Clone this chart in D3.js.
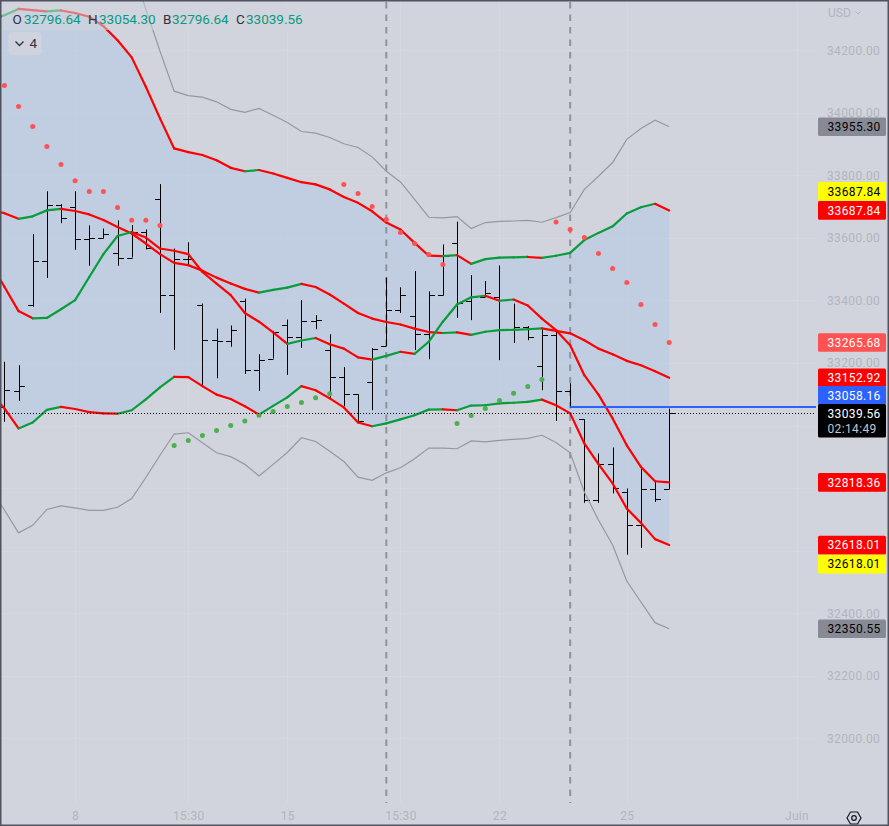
<!DOCTYPE html>
<html>
<head>
<meta charset="utf-8">
<title>Chart</title>
<script src="https://cdn.jsdelivr.net/npm/d3@7"></script>
<style>
  html, body { margin: 0; padding: 0; background: #d1d4dc; }
  svg { display: block; }
  text { font-family: Roboto, "Liberation Sans", sans-serif; }
</style>
</head>
<body>
<div id="chart"></div>
<script>
"use strict";

// OHLC bars, one per session in the window
const opens = [33060,33112,33386,33525,33705,33700,33595,33601,33553,33537,33619,33723,33416,33534,33384,33275,33269,33397,33179,33214,33320,33282,33333,33243,33154,33100,33138,33254,33368,33350,33294,33416,33583,33397,33411,33411,33307,33314,33189,33288,33112,33020,32762,32876,32789,32681,32796,32796.64];
const highs = [33204,33193,33612,33749,33708,33749,33640,33630,33656,33641,33627,33772,33566,33586,33390,33310,33320,33406,33228,33303,33339,33401,33353,33292,33187,33100,33248,33473,33442,33494,33429,33579,33652,33481,33462,33512,33390,33318,33312,33300,33135,33020,32911,32930,32799,32868,32822,33054.30];
const lows = [33012,33079,33380,33472,33647,33562,33511,33598,33511,33537,33563,33360,33242,33512,33129,33151,33252,33165,33111,33214,33162,33248,33308,33087,33062,33012,33049,33254,33360,33241,33212,33416,33344,33337,33411,33209,33264,33273,33113,33015,33060,32753,32753,32783,32587,32609,32756,32796.64];
const closes = [33115,33125,33525,33705,33665,33595,33601,33614,33537,33619,33569,33416,33534,33534,33275,33269,33304,33179,33211,33298,33282,33333,33339,33154,33100,33014,33246,33368,33416,33294,33416,33541,33392,33411,33425,33307,33314,33284,33288,33112,33060,32762,32876,32800,32681,32796,32766,33039.56];

// band lines: first value is the session just left of the window
const bandTop = [34296,34312,34332,34328,34324,34327,34319,34307,34277,34232,34177,34083,33982,33886,33874,33865,33848,33824,33813,33817,33806,33792,33778,33771,33755,33731,33712,33685,33649,33627,33584,33543,33542,33545,33517,33532,33537,33538,33539,33536,33543,33552,33593,33616,33637,33678,33698,33709,33687.84];
const bandUpperMid = [33689,33679,33661,33669,33688,33693,33686,33675,33657,33635,33614,33582,33548,33520,33513,33495,33473,33454,33437,33425,33434,33441,33453,33443,33419,33390,33360,33342,33331,33323,33310,33299,33296,33298,33290,33300,33305,33306,33308,33311,33303,33295,33273,33246,33228,33207,33193,33174,33152.92];
const bandLowerMid = [33522,33444,33366,33343,33344,33372,33401,33475,33548,33606,33619,33601,33566,33559,33548,33491,33454,33417,33360,33332,33298,33261,33272,33280,33260,33246,33218,33211,33223,33236,33229,33268,33332,33387,33410,33415,33399,33403,33384,33342,33305,33257,33161,33099,33023,32937,32868,32822,32818.36];
const bandBottom = [33107,33055,32991,33010,33050,33060,33053,33043,33039,33038,33049,33084,33122,33156,33155,33126,33099,33085,33062,33035,33063,33090,33126,33113,33087,33058,33010,32998,33007,33020,33033,33051,33052,33049,33064,33065,33071,33073,33076,33083,33065,33039,32943,32877,32815,32735,32689,32637,32618.01];

// outer grey envelope, null where it runs above the visible range
const outerTop = [null,null,null,null,null,null,null,null,null,null,34472,34331,34197,34069,34055,34050,34035,34011,34001,34014,33992,33969,33940,33935,33921,33901,33889,33859,33813,33779,33723,33666,33664,33668,33630,33649,33653,33654,33656,33650,33665,33681,33755,33797,33841,33915,33950,33976,33955.30];
const outerBottom = [32800,32730,32657,32681,32732,32743,32737,32729,32729,32739,32767,32834,32905,32973,32977,32945,32913,32901,32876,32839,32876,32914,32961,32949,32918,32885,32835,32825,32849,32865,32894,32928,32928,32926,32951,32948,32953,32956,32959,32969,32946,32913,32788,32698,32618,32503,32436,32370,32350.55];

// parabolic SAR dots (session number, price)
const sarRedSessions = [1,2,3,4,5,6,7,8,9,10,11,12,25,26,27,28,29,30,31,32,40,41,42,43,44,45,46,47,48];
const sarRedValues = [34087,34020,33956,33892,33835,33783,33748,33748,33697,33656,33656,33640,33771,33742,33700,33659,33617,33582,33547,33515,33651,33627,33601,33550,33502,33457,33387,33323,33265.68];
const sarGreenSessions = [13,14,15,16,17,18,19,20,21,22,23,24,33,34,35,36,37,38,39];
const sarGreenValues = [32936,32952,32968,32984,33000,33015,33033,33045,33061,33074,33089,33102,33007,33032,33055,33080,33103,33125,33147];

// axis labels (33000 and 32600 sit fully behind price tags)
const priceTicks = d3.range(32000, 34400, 200);
const priceLabels = [32000,32200,32400,32800,33200,33400,33600,33800,34000,34200];
const timeSessions = [6,14,21,29,36,45,57];
const timeLabels = ["8","15:30","15","15:30","22","25","Juin"];
const splitSessions = [28,41];

// last values and levels
const openLast = 32796.64, highLast = 33054.30, lowLast = 32796.64, closeLast = 33039.56;
const lastSeen = 33058.16;
const countdown = "02:14:49";
const tagValues = [33955.30,33687.84,33687.84,33265.68,33152.92,33058.16,33039.56,32818.36,32618.01,32618.01,32350.55];

const width = 889;
const height = 826;
const plotRight = 816;
const plotBottom = 803;

const svg = d3.select("#chart").append("svg")
    .attr("width", width)
    .attr("height", height);

svg.append("rect")
    .attr("width", width)
    .attr("height", height)
    .attr("fill", "#d1d4dc");

const x = d3.scaleLinear().domain([1, 48]).range([4.4, 669.2]);
const y = d3.scaleLinear().domain([34200, 32000]).range([50.2, 738.4]);

svg.append("defs").append("clipPath").attr("id", "plot")
    .append("rect")
    .attr("width", plotRight)
    .attr("height", plotBottom);

const plot = svg.append("g").attr("clip-path", "url(#plot)");

/* grid */
plot.selectAll(".hgrid")
    .data(priceTicks)
    .enter().append("line")
    .attr("x1", 0)
    .attr("x2", plotRight)
    .attr("y1", d => Math.round(y(d)) + 0.5)
    .attr("y2", d => Math.round(y(d)) + 0.5)
    .attr("stroke", "#d5d8df");

plot.selectAll(".vgrid")
    .data(timeSessions)
    .enter().append("line")
    .attr("x1", d => Math.round(x(d)) + 0.5)
    .attr("x2", d => Math.round(x(d)) + 0.5)
    .attr("y1", 0)
    .attr("y2", plotBottom)
    .attr("stroke", "#d5d8df");

/* cloud between the outer thick lines */
const area = d3.area()
    .x((d, i) => x(i))
    .y0(d => y(d))
    .y1((d, i) => y(bandBottom[i]));

plot.append("path")
    .attr("d", area(bandTop))
    .attr("fill", "rgba(177,200,232,0.5)");

/* session separators */
plot.selectAll(".split")
    .data(splitSessions)
    .enter().append("line")
    .attr("x1", d => x(d))
    .attr("x2", d => x(d))
    .attr("y1", 2)
    .attr("y2", plotBottom)
    .attr("stroke", "#8f929d")
    .attr("stroke-width", 2)
    .attr("stroke-dasharray", "6.5 6");

/* OHLC bars */
const crisp = v => Math.round(v) + 0.5;

const bars = plot.selectAll(".bar")
    .data(opens)
    .enter().append("g")
    .attr("class", "bar")
    .attr("stroke", "#000")
    .attr("stroke-width", 1);

bars.append("line")
    .attr("x1", (d, i) => crisp(x(i + 1)))
    .attr("x2", (d, i) => crisp(x(i + 1)))
    .attr("y1", (d, i) => y(highs[i]))
    .attr("y2", (d, i) => y(lows[i]));

bars.append("line")
    .attr("x1", (d, i) => crisp(x(i + 1)) - 5.5)
    .attr("x2", (d, i) => crisp(x(i + 1)))
    .attr("y1", d => crisp(y(d)))
    .attr("y2", d => crisp(y(d)));

bars.append("line")
    .attr("x1", (d, i) => crisp(x(i + 1)))
    .attr("x2", (d, i) => crisp(x(i + 1)) + 5.5)
    .attr("y1", (d, i) => crisp(y(closes[i])))
    .attr("y2", (d, i) => crisp(y(closes[i])));

/* grey envelope */
const outerLine = d3.line()
    .defined(d => d !== null)
    .x((d, i) => x(i))
    .y(d => y(d));

[outerTop, outerBottom].forEach(function(values){
  plot.append("path")
      .attr("d", outerLine(values))
      .attr("fill", "none")
      .attr("stroke", "#9598a1")
      .attr("stroke-width", 1.2);
});

/* thick bands, each step coloured by its direction */
[bandTop, bandUpperMid, bandLowerMid, bandBottom].forEach(function(values){
  plot.append("g").selectAll("line")
      .data(values.slice(1))
      .enter().append("line")
      .attr("x1", (d, i) => x(i))
      .attr("x2", (d, i) => x(i + 1))
      .attr("y1", (d, i) => y(values[i]))
      .attr("y2", d => y(d))
      .attr("stroke", (d, i) => d >= values[i] ? "#089c3a" : "#ff0000")
      .attr("stroke-width", 2.2)
      .attr("stroke-linecap", "round");
});

/* SAR dots */
plot.selectAll(".sar-red")
    .data(sarRedValues)
    .enter().append("circle")
    .attr("cx", (d, i) => x(sarRedSessions[i]))
    .attr("cy", d => y(d))
    .attr("r", 2.5)
    .attr("fill", "#ff5252");

plot.selectAll(".sar-green")
    .data(sarGreenValues)
    .enter().append("circle")
    .attr("cx", (d, i) => x(sarGreenSessions[i]))
    .attr("cy", d => y(d))
    .attr("r", 2.5)
    .attr("fill", "#4caf50");

/* price lines */
svg.append("line")
    .attr("x1", 0)
    .attr("x2", plotRight)
    .attr("y1", crisp(y(closeLast)))
    .attr("y2", crisp(y(closeLast)))
    .attr("stroke", "#000")
    .attr("stroke-dasharray", "1 2");

svg.append("line")
    .attr("x1", x(41))
    .attr("x2", plotRight)
    .attr("y1", Math.round(y(lastSeen)))
    .attr("y2", Math.round(y(lastSeen)))
    .attr("stroke", "#2d62ff")
    .attr("stroke-width", 2);

/* legend strip fades what runs under it */
svg.append("rect")
    .attr("x", 2)
    .attr("y", 2)
    .attr("width", 312)
    .attr("height", 28)
    .attr("fill", "#d1d4dc")
    .attr("opacity", 0.55);

const legendItems = [
  {label: "O", value: openLast, lx: 12.5, vx: 24},
  {label: "H", value: highLast, lx: 88, vx: 99},
  {label: "B", value: lowLast, lx: 163, vx: 172},
  {label: "C", value: closeLast, lx: 236, vx: 246}
];

const legend = svg.selectAll(".legend")
    .data(legendItems)
    .enter().append("g")
    .attr("font-size", 13.5);

legend.append("text")
    .attr("x", d => d.lx)
    .attr("y", 24)
    .attr("fill", "#30333c")
    .text(d => d.label);

legend.append("text")
    .attr("x", d => d.vx)
    .attr("y", 24)
    .attr("fill", "#089981")
    .text(d => d.value.toFixed(2));

svg.append("rect")
    .attr("x", 8.5)
    .attr("y", 32)
    .attr("width", 33)
    .attr("height", 23)
    .attr("rx", 4)
    .attr("fill", "#d1d4dc")
    .attr("opacity", 0.75);

svg.append("path")
    .attr("d", d3.line()([[15.5, 41.5], [19.5, 45.5], [23.5, 41.5]]))
    .attr("fill", "none")
    .attr("stroke", "#30333c")
    .attr("stroke-width", 1.3);

svg.append("text")
    .attr("x", 29.5)
    .attr("y", 48)
    .attr("font-size", 13.5)
    .attr("fill", "#30333c")
    .text("4");

/* axes */
const priceAxis = svg.append("g")
    .attr("transform", `translate(${plotRight},0)`)
    .call(d3.axisRight(y).tickValues(priceLabels).tickSize(0).tickPadding(11).tickFormat(d3.format(".2f")));

const timeAxis = svg.append("g")
    .attr("transform", `translate(0,${plotBottom})`)
    .call(d3.axisBottom(x).tickValues(timeSessions).tickSize(0).tickPadding(8)
        .tickFormat((d, i) => timeLabels[i]));

[priceAxis, timeAxis].forEach(function(axis){
  axis.select(".domain").remove();
  axis.selectAll("text")
      .attr("fill", "#b2b5be")
      .style("font-family", "Roboto, sans-serif")
      .style("font-size", "12px")
      .style("letter-spacing", "0.35px");
});

svg.append("text")
    .attr("x", 828)
    .attr("y", 16.5)
    .attr("font-size", 12)
    .attr("fill", "#b2b5be")
    .text("USD");

svg.append("path")
    .attr("d", d3.line()([[855.5, 11.5], [858, 14], [860.5, 11.5]]))
    .attr("fill", "none")
    .attr("stroke", "#b2b5be");

/* price tags, some nudged so they stack */
const tagStyles = [
  {fill: "#878a94", color: "#000", nudge: 0},
  {fill: "#ffff00", color: "#000", nudge: -19},
  {fill: "#ff0000", color: "#fff", nudge: 0},
  {fill: "#ff5252", color: "#fff", nudge: 0},
  {fill: "#ff0000", color: "#fff", nudge: 0},
  {fill: "#2d62ff", color: "#fff", nudge: -12},
  {fill: "#000000", color: "#fff", nudge: 0, extra: countdown},
  {fill: "#ff0000", color: "#fff", nudge: 0},
  {fill: "#ff0000", color: "#fff", nudge: 0},
  {fill: "#ffff00", color: "#000", nudge: 19},
  {fill: "#878a94", color: "#000", nudge: 0}
];

const tags = svg.selectAll(".tag")
    .data(tagValues)
    .enter().append("g")
    .attr("transform", (d, i) => `translate(818,${y(d) + tagStyles[i].nudge})`);

tags.append("rect")
    .attr("y", -9.3)
    .attr("width", 68)
    .attr("height", (d, i) => tagStyles[i].extra ? 33.5 : 18.6)
    .attr("rx", 1.5)
    .attr("fill", (d, i) => tagStyles[i].fill);

tags.append("text")
    .attr("x", 9.5)
    .attr("dy", "0.36em")
    .attr("font-size", 12)
    .attr("letter-spacing", "0.35px")
    .attr("fill", (d, i) => tagStyles[i].color)
    .text(d => d.toFixed(2));

tags.filter((d, i) => tagStyles[i].extra)
    .append("text")
    .attr("x", 9.5)
    .attr("y", 15.5)
    .attr("dy", "0.36em")
    .attr("font-size", 12)
    .attr("letter-spacing", "0.35px")
    .attr("fill", "#c4c6cd")
    .text(countdown);

/* settings hexagon in the corner */
const hex = d3.line()([[847, 818], [850.5, 812], [857.5, 812], [861, 818], [857.5, 824], [850.5, 824]]) + "Z";

svg.append("path")
    .attr("d", hex)
    .attr("fill", "none")
    .attr("stroke", "#131722")
    .attr("stroke-width", 1.2);

svg.append("circle")
    .attr("cx", 854)
    .attr("cy", 818)
    .attr("r", 2.3)
    .attr("fill", "none")
    .attr("stroke", "#131722")
    .attr("stroke-width", 1.2);

/* frame */
svg.append("rect")
    .attr("width", width)
    .attr("height", height)
    .attr("fill", "none")
    .attr("stroke", "#50535e")
    .attr("stroke-width", 3);
</script>
</body>
</html>
